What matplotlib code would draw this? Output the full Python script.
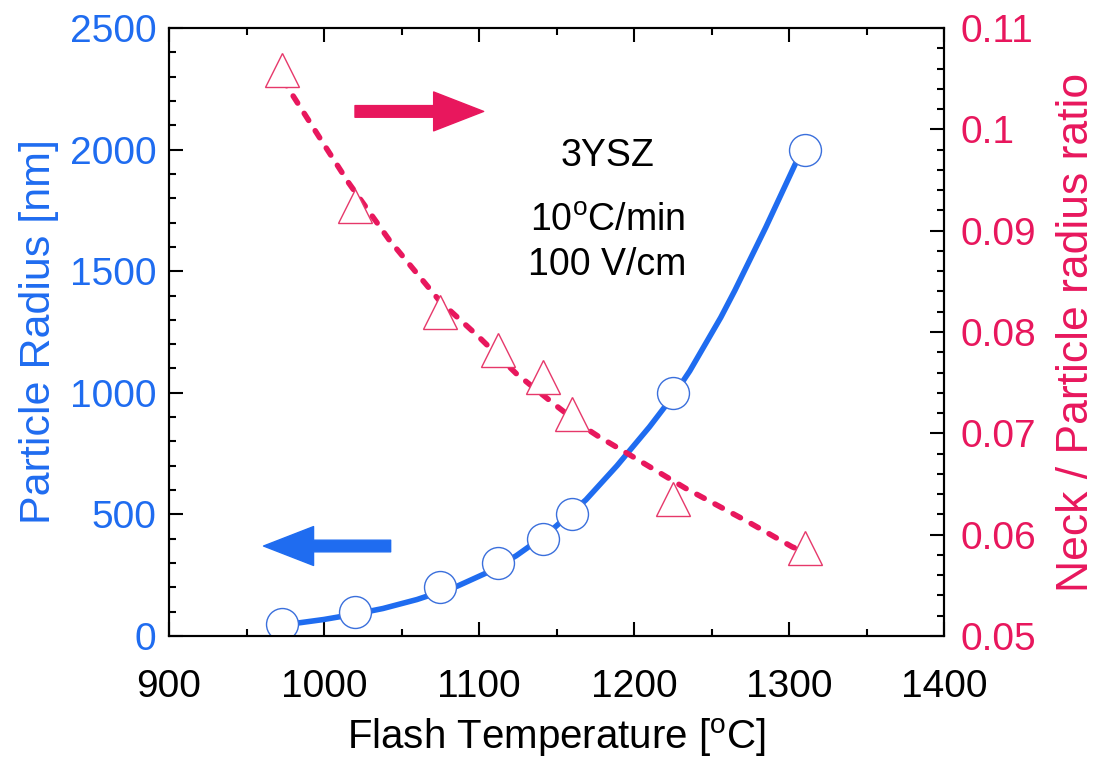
import matplotlib
matplotlib.use("Agg")
import matplotlib.pyplot as plt
from matplotlib.ticker import MultipleLocator

plt.rcParams['font.family'] = ['Liberation Sans', 'DejaVu Sans']
plt.rcParams['mathtext.fontset'] = 'custom'
plt.rcParams['mathtext.rm'] = 'Liberation Sans'

BLUE = '#1f6cf0'
PINK = '#e8175d'

# measured points
temp = [973, 1020, 1075, 1112, 1141, 1160, 1225, 1310]
radius = [50, 100, 200, 300, 400, 500, 1000, 2000]
neck_ratio = [0.1059, 0.0924, 0.0820, 0.0782, 0.0756, 0.0719, 0.0635, 0.0587]

# fitted curves
fit_r_x = [973, 985, 1000, 1020, 1038, 1060, 1086, 1105, 1124, 1145, 1169, 1189,
           1210, 1225, 1236, 1246, 1256, 1265, 1285, 1304, 1310]
fit_r_y = [45, 55, 68, 90, 113, 150, 205, 260, 330, 425, 560, 700,
           860, 985, 1090, 1200, 1310, 1420, 1680, 1940, 2000]
fit_n_x = [973, 1000, 1016, 1042, 1075, 1100, 1124, 1150, 1167, 1177, 1197, 1233,
           1272, 1302, 1310]
fit_n_y = [0.1050, 0.0985, 0.0947, 0.0891, 0.0830, 0.0795, 0.0759, 0.0727, 0.0707,
           0.0697, 0.0679, 0.0646, 0.0614, 0.0588, 0.0583]

fig = plt.figure(figsize=(10.99, 7.70), dpi=100)
ax = fig.add_axes([169 / 1099, 1 - 636 / 770, 775 / 1099, 608 / 770])
ax2 = ax.twinx()

ax.plot(fit_r_x, fit_r_y, color=BLUE, lw=4, zorder=2, solid_joinstyle='round')
ax.plot(temp, radius, 'o', ms=23, mfc='white', mec='#3a6fdc', mew=1.0, zorder=3)

ax2.plot(fit_n_x, fit_n_y, color=PINK, lw=4, linestyle=(0, (1.5, 2.2)),
         dash_capstyle='round', zorder=2)
ax2.plot(temp, neck_ratio, '^', ms=24, mfc='white', mec='#e6386a', mew=1.0, zorder=3)

ax.set_xlim(900, 1400)
ax.set_ylim(0, 2500)
ax2.set_ylim(0.05, 0.11)

ax.xaxis.set_major_locator(MultipleLocator(100))
ax.xaxis.set_minor_locator(MultipleLocator(50))
ax.yaxis.set_major_locator(MultipleLocator(500))
ax.yaxis.set_minor_locator(MultipleLocator(100))
ax2.yaxis.set_minor_locator(MultipleLocator(0.002))
ax2.set_yticks([0.05, 0.06, 0.07, 0.08, 0.09, 0.1, 0.11])
ax2.set_yticklabels(['0.05', '0.06', '0.07', '0.08', '0.09', '0.1', '0.11'])

for a in (ax, ax2):
    for s in a.spines.values():
        s.set_linewidth(1.5)
ax.tick_params(axis='x', which='both', direction='in', top=True, bottom=True,
               labelsize=28, pad=24, width=1.5)
ax.tick_params(axis='x', which='major', length=10)
ax.tick_params(axis='x', which='minor', length=5)
ax.tick_params(axis='y', which='both', direction='in', right=False,
               labelsize=28, labelcolor=BLUE, pad=9, width=1.5)
ax.tick_params(axis='y', which='major', length=10)
ax.tick_params(axis='y', which='minor', length=5)
ax2.tick_params(axis='y', which='both', direction='in', labelsize=28,
                labelcolor=PINK, pad=12, width=1.5)
ax2.tick_params(axis='y', which='major', length=10)
ax2.tick_params(axis='y', which='minor', length=5)

ax.set_xlabel(r'Flash Temperature [$^\mathrm{o}$C]', fontsize=29, labelpad=8)
ax.set_ylabel('Particle Radius [nm]', fontsize=31, color=BLUE, labelpad=8)
ax2.set_ylabel('Neck / Particle radius ratio', fontsize=32, color=PINK, labelpad=14)

ax.text(1183, 1974, '3YSZ', fontsize=27, ha='center', va='center')
ax.text(1183, 1705, r'10$^\mathrm{o}$C/min', fontsize=27, ha='center', va='center')
ax.text(1183, 1525, '100 V/cm', fontsize=27, ha='center', va='center')

ax.annotate('', xy=(1103, 2157), xytext=(1020, 2157),
            arrowprops=dict(arrowstyle='simple,head_length=1.8,head_width=1.4,tail_width=0.42',
                            color=PINK, shrinkA=0, shrinkB=0, mutation_scale=20), zorder=5)
ax.annotate('', xy=(961, 370), xytext=(1043, 370),
            arrowprops=dict(arrowstyle='simple,head_length=1.8,head_width=1.4,tail_width=0.42',
                            color=BLUE, shrinkA=0, shrinkB=0, mutation_scale=20), zorder=5)

fig.savefig('out.png', dpi=100)
